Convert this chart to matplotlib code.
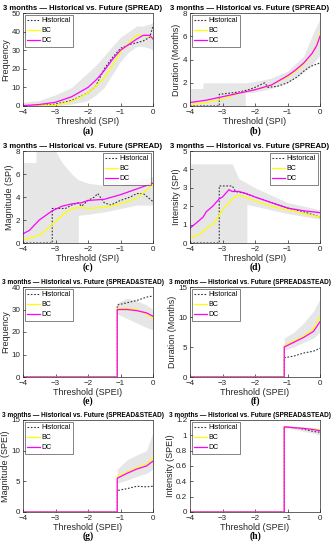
import numpy as np
import matplotlib.pyplot as plt

plt.rcParams['font.family'] = ['Liberation Sans', 'DejaVu Sans']

# ---- panel (a) Frequency, SPI
x_a = [-4, -3.5, -3, -2.5, -2, -1.75, -1.5, -1.25, -1, -0.75, -0.5, -0.3, -0.1, 0]
hist_a = [0, 0.2, 1, 3, 7, 11, 20, 26, 31, 33, 34, 35, 37, 43]
bc_a = [0, 0.1, 0.5, 2.5, 7, 11, 15, 22, 29, 34, 38, 38, 37.5, 36]
dc_a = [0.2, 0.8, 2, 5, 10, 14, 19, 25, 30, 33, 36, 38, 38, 36]
lo_a = [0, 0, 0, 1, 3, 6, 10, 17, 24, 29, 32, 32, 31, 30]
hi_a = [2, 3, 6, 10, 18, 22, 27, 32, 37, 40, 43, 43, 44, 45]

# ---- panel (b) Duration, SPI
xh_b = [-4, -3.1, -3.1, -2.5, -2.2, -2, -1.7, -1.6, -1.3, -1, -0.7, -0.5, -0.3, -0.1, 0]
hist_b = [0, 0, 1.0, 1.2, 1.4, 1.6, 2.0, 1.6, 1.7, 2.0, 2.5, 3.0, 3.4, 3.6, 3.7]
xm_b = [-4, -3.5, -3, -2.5, -2, -1.5, -1, -0.75, -0.5, -0.25, -0.1, 0]
bc_b = [0.1, 0.3, 0.6, 1.1, 1.4, 1.8, 2.5, 3.0, 3.6, 4.5, 5.3, 6.2]
dc_b = [0.3, 0.5, 0.8, 1.1, 1.4, 1.8, 2.6, 3.1, 3.7, 4.5, 5.2, 6.0]
xs_b = [-4, -3.6, -3.6, -2.3, -2.3, -2, -1.5, -1, -0.5, -0.25, 0]
lo_b = [0, 0, 0, 0, 1.1, 1.2, 1.5, 2.0, 2.9, 3.5, 4.4]
hi_b = [1.5, 1.5, 2.0, 2.0, 2.0, 2.1, 2.4, 3.0, 4.3, 6.0, 7.5]

# ---- panel (c) Magnitude, SPI
xh_c = [-4, -3.1, -3.1, -2.7, -2.5, -2.3, -2.2, -2, -1.8, -1.7, -1.5, -1.3, -1, -0.7, -0.5, -0.3, 0]
hist_c = [0, 0, 3.0, 3.0, 3.3, 3.5, 3.2, 3.7, 4.0, 4.3, 3.5, 3.3, 3.7, 4.0, 4.3, 4.3, 3.6]
xm_c = [-4, -3.8, -3.5, -3.3, -3.1, -2.8, -2.5, -2.2, -2, -1.5, -1, -0.5, 0]
bc_c = [0.3, 0.4, 0.7, 1.1, 1.6, 2.4, 3.0, 3.1, 3.0, 3.1, 3.4, 3.9, 5.1]
dc_c = [0.8, 1.1, 2.0, 2.4, 2.8, 3.2, 3.4, 3.5, 3.7, 3.8, 4.2, 4.7, 5.2]
xs_c = [-4, -3.6, -3.6, -3.0, -2.8, -2.5, -2.3, -2.3, -2, -1.5, -1, -0.5, 0]
lo_c = [0, 0, 0, 0, 0, 0, 0, 2.4, 2.5, 2.7, 3.0, 3.3, 3.3]
hi_c = [7, 7, 8, 8, 7.0, 6.0, 5.5, 5.5, 5.2, 5.0, 5.0, 5.4, 5.8]

# ---- panel (d) Intensity, SPI
xh_d = [-4, -3.1, -3.1, -2.7, -2.6, -2.3, -2, -1.5, -1, -0.5, 0]
hist_d = [0, 0, 3.1, 3.1, 2.8, 2.7, 2.5, 2.2, 1.9, 1.7, 1.4]
xm_d = [-4, -3.8, -3.6, -3.5, -3.3, -3.1, -3, -2.8, -2.7, -2.5, -2.3, -2, -1.5, -1, -0.5, 0]
bc_d = [0.3, 0.4, 0.6, 0.8, 1.0, 1.5, 1.8, 2.2, 2.4, 2.6, 2.5, 2.3, 2.0, 1.8, 1.6, 1.4]
dc_d = [0.8, 1.1, 1.4, 1.7, 2.0, 2.4, 2.5, 2.9, 2.8, 2.8, 2.7, 2.5, 2.2, 1.9, 1.75, 1.65]
xs_d = [-4, -2.7, -2.5, -2.3, -2.25, -2.25, -2, -1.5, -1, -0.5, 0]
lo_d = [0, 0, 0, 0, 0, 2.1, 2.0, 1.8, 1.6, 1.45, 1.3]
hi_d = [4.3, 4.3, 3.5, 3.3, 3.25, 3.25, 3.0, 2.6, 2.2, 2.0, 1.8]

# ---- panels (e)-(h), SPEI
x_spei = [-4, -1.1, -1.1, -0.8, -0.5, -0.2, 0]
xs_spei = [-1.1, -0.8, -0.5, -0.2, 0]

hist_e = [0, 0, 32, 33, 34, 35.5, 36]
bc_e = [0, 0, 30.5, 30.5, 30, 28, 26]
dc_e = [0, 0, 30, 30, 29.5, 28.5, 27]
lo_e = [28, 26, 24, 22, 21]
hi_e = [33, 35, 34, 32, 30]

hist_f = [0, 0, 3.2, 3.5, 4.0, 4.3, 4.8]
bc_f = [0, 0, 5.2, 6.0, 6.8, 8.0, 10.0]
dc_f = [0, 0, 5.0, 5.8, 6.6, 7.6, 9.2]
lo_f = [4.5, 5, 5.8, 6.5, 7.5]
hi_f = [6.5, 7.5, 9, 11, 13]

hist_g = [0, 0, 3.5, 3.8, 4.2, 4.1, 4.2]
bc_g = [0, 0, 5.8, 6.5, 7.2, 7.8, 8.8]
dc_g = [0, 0, 5.5, 6.3, 7.0, 7.5, 8.3]
lo_g = [4.7, 5.2, 5.8, 6.3, 7]
hi_g = [7, 8.5, 9.3, 10, 13]

hist_h = [0, 0, 1.11, 1.1, 1.08, 1.05, 1.04]
bc_h = [0, 0, 1.11, 1.1, 1.09, 1.08, 1.07]
dc_h = [0, 0, 1.11, 1.1, 1.09, 1.075, 1.06]
lo_h = [1.1, 1.08, 1.05, 1.03, 1.0]
hi_h = [1.12, 1.115, 1.11, 1.1, 1.09]

title_spi = '3 months \u2014 Historical vs. Future (SPREAD)'
title_spei = '3 months \u2014 Historical vs. Future (SPREAD&STEAD)'

panels = [
    # xh, hist, xm, bc, dc, xs, lo, hi, ylabel, ylim, yticks, xlabel, title, legend loc, tag
    (x_a, hist_a, x_a, bc_a, dc_a, x_a, lo_a, hi_a, 'Frequency', 50, np.arange(0, 51, 10), 'Threshold (SPI)', title_spi, 'upper left', '(a)'),
    (xh_b, hist_b, xm_b, bc_b, dc_b, xs_b, lo_b, hi_b, 'Duration (Months)', 8, np.arange(0, 9, 2), 'Threshold (SPI)', title_spi, 'upper left', '(b)'),
    (xh_c, hist_c, xm_c, bc_c, dc_c, xs_c, lo_c, hi_c, 'Magnitude (SPI)', 8, np.arange(0, 9, 2), 'Threshold (SPI)', title_spi, 'upper right', '(c)'),
    (xh_d, hist_d, xm_d, bc_d, dc_d, xs_d, lo_d, hi_d, 'Intensity (SPI)', 5, np.arange(0, 6, 1), 'Threshold (SPI)', title_spi, 'upper right', '(d)'),
    (x_spei, hist_e, x_spei, bc_e, dc_e, xs_spei, lo_e, hi_e, 'Frequency', 40, np.arange(0, 41, 10), 'Threshold (SPEI)', title_spei, 'upper left', '(e)'),
    (x_spei, hist_f, x_spei, bc_f, dc_f, xs_spei, lo_f, hi_f, 'Duration (Months)', 15, np.arange(0, 16, 5), 'Threshold (SPEI)', title_spei, 'upper left', '(f)'),
    (x_spei, hist_g, x_spei, bc_g, dc_g, xs_spei, lo_g, hi_g, 'Magnitude (SPEI)', 15, np.arange(0, 16, 5), 'Threshold (SPEI)', title_spei, 'upper left', '(g)'),
    (x_spei, hist_h, x_spei, bc_h, dc_h, xs_spei, lo_h, hi_h, 'Intensity (SPEI)', 1.2, np.round(np.arange(0, 1.21, 0.2), 1), 'Threshold (SPEI)', title_spei, 'upper left', '(h)'),
]

# axes boxes in pixels (left, top, right, bottom) of a 334x550 figure
W, H = 334, 550
cols = [(23, 153), (190, 320)]
rows = [(13, 106), (151, 243), (287, 377), (420, 512)]

fig = plt.figure(figsize=(3.34, 5.5), dpi=100)
axcol = '#262626'

for i, p in enumerate(panels):
    xh, hist, xm, bc, dc, xs, lo, hi, ylab, ymax, yt, xlab, title, loc, tag = p
    l, r = cols[i % 2]
    t, b = rows[i // 2]
    ax = fig.add_axes([l / W, 1 - b / H, (r - l) / W, (b - t) / H])
    ax.fill_between(xs, lo, hi, color='#e6e6e6', lw=0)
    ax.plot(xh, hist, color='#333333', lw=0.8, ls=(0, (1.5, 1.5)), label='Historical')
    ax.plot(xm, bc, color='#ffff00', lw=0.9, label='BC')
    ax.plot(xm, dc, color='#ff00ff', lw=0.9, label='DC')
    ax.set_xlim(-4, 0)
    ax.set_ylim(0, ymax)
    ax.set_xticks([-4, -3, -2, -1, 0])
    ax.set_yticks(yt)
    ax.set_yticklabels([f'{v:g}' for v in yt])
    ax.tick_params(direction='in', length=2, width=0.5, labelsize=5.8, colors=axcol, pad=2)
    for s in ax.spines.values():
        s.set_linewidth(0.5)
        s.set_color(axcol)
    ax.set_xlabel(xlab, fontsize=6.5, color=axcol, labelpad=1)
    ax.set_ylabel(ylab, fontsize=6.5, color=axcol, labelpad=1)
    tsize = 5.5 if i < 4 else 4.7
    ax.set_title(title, fontsize=tsize, fontweight='bold', pad=2.5, x=0.46)
    leg = ax.legend(loc=loc, fontsize=5, frameon=True, fancybox=False,
                    handlelength=1.8, borderpad=0.3, labelspacing=0.45,
                    handletextpad=0.25, borderaxespad=0.3)
    leg.get_frame().set_edgecolor(axcol)
    leg.get_frame().set_linewidth(0.5)
    ax.text(0.5, -0.215, tag, transform=ax.transAxes, ha='center', va='top',
            fontsize=7, fontweight='bold', family='Liberation Serif')

fig.savefig('out.png', dpi=100)
